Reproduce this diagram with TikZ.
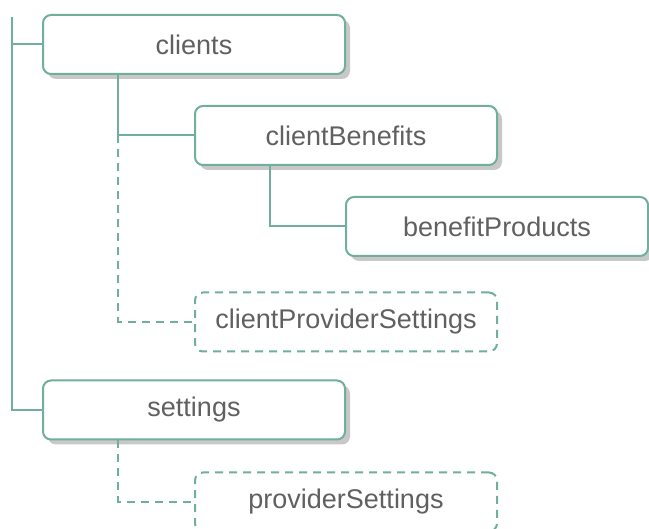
\documentclass[tikz,border=0pt]{standalone}
\usepackage{fontspec}
\setmainfont{Liberation Sans}
\usetikzlibrary{shadows,positioning,calc}
\definecolor{treeline}{RGB}{112,174,158}
\definecolor{labelgray}{RGB}{96,96,96}
\definecolor{shadowgray}{RGB}{200,200,200}

\begin{document}
\begin{tikzpicture}[x=1pt,y=-1pt,
		box/.style={draw=treeline, line width=2pt, rounded corners=8pt, fill=white,
			minimum width=302pt, minimum height=59pt, text=labelgray,
			font=\fontsize{27}{31}\selectfont},
		shadowbox/.style={box, drop shadow={shadow xshift=5pt, shadow yshift=-5pt, fill=shadowgray, opacity=1}},
		optbox/.style={box, dash pattern=on 8pt off 6pt},
		link/.style={draw=treeline, line width=2pt},
		optlink/.style={link, dash pattern=on 8pt off 6pt}]
		\clip (0,0) rectangle (649,529);

		\coordinate (top) at (12, 17);
		\node[shadowbox] (clients) at (194, 44.5) {clients};
		\node[shadowbox] (clientBenefits) at (346, 135.5) {clientBenefits};
		\node[shadowbox] (benefitProducts) at (497, 226.5) {benefitProducts};
		\node[optbox] (clientProviderSettings) at (346, 322) {clientProviderSettings};
		\node[shadowbox] (settings) at (194, 410) {settings};
		\node[optbox] (providerSettings) at (346, 502) {providerSettings};

		% tree lines
		\draw[link] (top) |- (clients.west);
		\draw[link] (top) |- (settings.west);
		\draw[link] (clients.south -| 118, 0) |- (clientBenefits.west);
		\draw[optlink] (clientBenefits.west -| 118, 0) |- (clientProviderSettings.west);
		\draw[link] (clientBenefits.south -| 270, 0) |- (benefitProducts.west);
		\draw[optlink] (settings.south -| 118, 0) |- (providerSettings.west);
	\end{tikzpicture}
\end{document}
